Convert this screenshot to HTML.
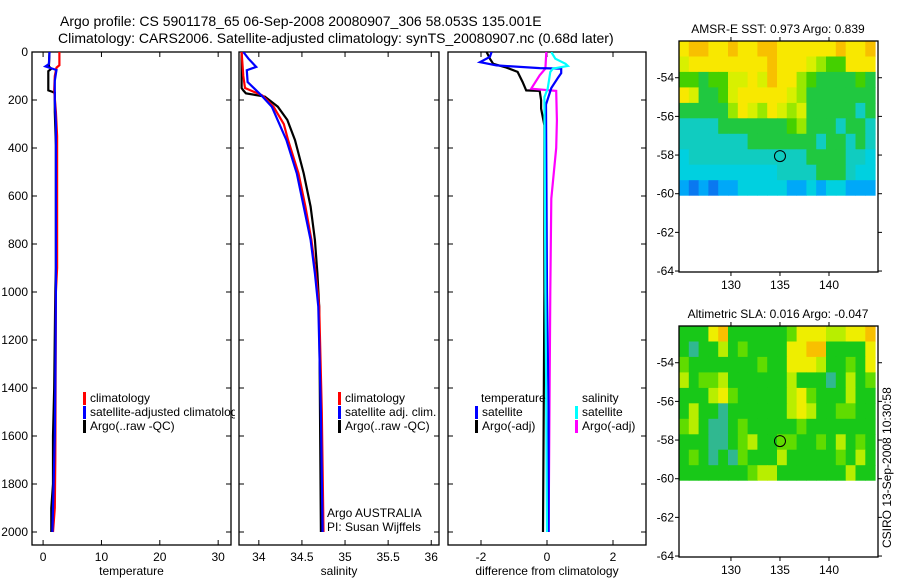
<!DOCTYPE html>
<html><head><meta charset="utf-8"><style>
body{margin:0;background:#fff;}
svg{display:block;font-family:"Liberation Sans",sans-serif;}
text{fill:#000;}
</style></head><body>
<svg id="fig" width="900" height="580" viewBox="0 0 900 580">
<text x="60" y="26" font-size="14">Argo profile: CS 5901178_65 06-Sep-2008 20080907_306 58.053S 135.001E</text>
<text x="58" y="43" font-size="14">Climatology: CARS2006. Satellite-adjusted climatology: synTS_20080907.nc (0.68d later)</text>
<text transform="translate(891,548) rotate(-90)" font-size="12">CSIRO 13-Sep-2008 10:30:58</text>
</svg>
<script>
// ---------- data ----------
const depthTicks=[0,200,400,600,800,1000,1200,1400,1600,1800,2000];
const tempTicks=[0,10,20,30];
const salTicks=[34,34.5,35,35.5,36];
const diffTicks=[-2,0,2];
const tArgoDepth=[0,60,70,80,160,165,170,250,390,900,1000,1400,1600,1800,1900,2000];
const tArgoVal=[1.1,1.0,1.4,0.9,0.9,1.5,2.0,2.0,2.2,2.2,2.1,1.9,1.7,1.7,1.4,1.4];
const tClimDepth=[0,55,65,100,160,250,350,900,1000,1700,1900,2000];
const tClimVal=[2.8,2.8,2.3,2.0,1.9,2.2,2.4,2.4,2.2,2.1,2.0,1.7];
const tSatDepth=[0,50,60,75,90,120,200,300,1000,1400,1600,2000];
const tSatVal=[1.1,1.0,0.4,2.3,2.2,2.0,2.0,2.2,2.2,2.1,2.0,1.6];
const sArgoDepth=[0,150,160,172,186,228,283,367,506,644,783,922,1061,1500,2000];
const sArgoVal=[33.80,33.80,33.82,33.85,34.07,34.22,34.33,34.42,34.52,34.60,34.65,34.68,34.70,34.71,34.72];
const sClimDepth=[0,100,150,181,228,300,367,506,644,783,922,1061,1500,2000];
const sClimVal=[33.80,33.82,33.84,34.04,34.17,34.29,34.34,34.46,34.54,34.61,34.66,34.70,34.73,34.75];
const sSatDepth=[0,28,62,76,125,181,228,367,506,644,783,922,1061,1500,2000];
const sSatVal=[33.82,33.88,33.97,33.86,33.87,34.03,34.15,34.32,34.44,34.52,34.60,34.65,34.69,34.72,34.74];
const dTArgoDepth=[0,28,49,65,83,125,160,162,201,236,306,1000,1500,2000];
const dTArgoVal=[-1.83,-1.73,-1.63,-1.23,-0.89,-0.74,-0.63,-0.22,-0.18,-0.18,-0.08,-0.08,-0.1,-0.12];
const dTSatDepth=[0,20,42,56,67,69,88,108,150,219,1000,1500,2000];
const dTSatVal=[-1.68,-1.73,-2.03,-1.53,-0.22,0.43,0.43,0.33,0.13,-0.03,0.0,0.05,0.05];
const dSArgoDepth=[0,69,97,153,162,285,400,611,1000,2000];
const dSArgoVal=[-0.02,-0.05,-0.22,-0.48,0.28,0.3,0.28,0.13,0.1,0.05];
const dSSatDepth=[0,28,49,58,69,83,153,188,1000,1500,2000];
const dSSatVal=[0.13,0.25,0.56,0.63,0.18,0.1,0.02,-0.08,-0.05,-0.02,0.0];
const mapLonTicks=[130,135,140];
const mapLatTicks=[-54,-56,-58,-60,-62,-64];
const sstGrid=[
"89988988998888889889",
"78888888898887655888",
"55455778798865444454",
"87445788888764444444",
"44444687687674444434",
"33334444444564443443",
"33333334444444344343",
"23333333333334444332",
"22222222223333444322",
"10101122222112122111"];
const slaGrid=[
"44478444444577766778",
"43446454444778844447",
"54444444544777644547",
"64556444444644434645",
"44467544444675444644",
"46443444444676445544",
"56433454444454444444",
"44433456445544546454",
"45434354446444445464",
"44444445664444444644"];
// ---------- helpers ----------
const svg=document.getElementById('fig');
const NS='http://www.w3.org/2000/svg';
function mk(tag,attrs,parent){const e=document.createElementNS(NS,tag);for(const k in attrs)e.setAttribute(k,attrs[k]);(parent||svg).appendChild(e);return e;}
const Y0=52,Y1=545;
const yD=d=>Y0+d*0.24;
function panel(name,x0,x1,vmin,vmax,ticks,label,showY){
  const g=mk('g',{});
  
  
  const xs=v=>x0+(v-vmin)/(vmax-vmin)*(x1-x0);
  const fr=mk('rect',{x:x0,y:Y0,width:x1-x0,height:Y1-Y0,fill:'none',stroke:'#000','stroke-width':1.3},g);
  
  
  ticks.forEach(t=>{const x=xs(t);
    mk('line',{x1:x,x2:x,y1:Y0,y2:Y0+5,stroke:'#000'},g);
    mk('line',{x1:x,x2:x,y1:Y1,y2:Y1-5,stroke:'#000'},g);
    const tl=mk('text',{x:x,y:Y1+16,'font-size':12,'text-anchor':'middle'},g);tl.textContent=t;
    
    });
  depthTicks.forEach(d=>{const y=yD(d);
    mk('line',{x1:x0,x2:x0+5,y1:y,y2:y,stroke:'#000'},g);
    mk('line',{x1:x1,x2:x1-5,y1:y,y2:y,stroke:'#000'},g);
    if(showY){const tl=mk('text',{x:x0-4,y:y+4,'font-size':12,'text-anchor':'end'},g);tl.textContent=d;
      
      }});
  const xl=mk('text',{x:(x0+x1)/2,y:575,'font-size':12,'text-anchor':'middle'},g);xl.textContent=label;
  
  
  const cid='clip'+name;const cp=mk('clipPath',{id:cid},g);mk('rect',{x:x0,y:Y0,width:x1-x0,height:Y1-Y0},cp);
  const inner=mk('g',{'clip-path':'url(#'+cid+')'},g);
  return {xs,inner,g};
}
function line(P,depths,vals,color,name){
  let d='';depths.forEach((dd,i)=>{d+=(i?'L':'M')+P.xs(vals[i]).toFixed(1)+','+yD(dd).toFixed(1);});
  const p=mk('path',{d:d,fill:'none',stroke:color,'stroke-width':2.2},P.inner);
  
  
}
function legend(g,x,y,color,txt){
  if(color){const b=mk('rect',{x:x-7,y:y-10,width:3,height:13,fill:color},g);
    
    }
  const t=mk('text',{x:x,y:y,'font-size':12},g);t.textContent=txt;
  
  
  return t;
}
// panel 1 temperature
const P1=panel('temperature-panel',32,231,-1.9,32.2,tempTicks,'temperature',true);
line(P1,tArgoDepth,tArgoVal,'#000','temp-argo-line');
line(P1,tClimDepth,tClimVal,'#f00','temp-climatology-line');
line(P1,tSatDepth,tSatVal,'#00f','temp-satellite-line');
const lc=mk('clipPath',{id:'lg1'});mk('rect',{x:32,y:380,width:203,height:60},lc);
const lg1=mk('g',{'clip-path':'url(#lg1)'});
legend(lg1,90,402,'#f00','climatology');
legend(lg1,90,416,'#00f','satellite-adjusted climatology');
legend(lg1,90,430,'#000','Argo(..raw -QC)');
// panel 2 salinity
const P2=panel('salinity-panel',239,439,33.77,36.09,salTicks,'salinity',false);
line(P2,sArgoDepth,sArgoVal,'#000','sal-argo-line');
line(P2,sClimDepth,sClimVal,'#f00','sal-climatology-line');
line(P2,sSatDepth,sSatVal,'#00f','sal-satellite-line');
legend(P2.g,345,402,'#f00','climatology');
legend(P2.g,345,416,'#00f','satellite adj. clim.');
legend(P2.g,345,430,'#000','Argo(..raw -QC)');
legend(P2.g,327,517,null,'Argo AUSTRALIA');
legend(P2.g,327,531,null,'PI: Susan Wijffels');
// panel 3 differences
const P3=panel('difference-panel',448,646,-3,3,diffTicks,'difference from climatology',false);
line(P3,dTArgoDepth,dTArgoVal,'#000','diff-temp-argo-line');
line(P3,dSArgoDepth,dSArgoVal,'#f0f','diff-sal-argo-line');
line(P3,dTSatDepth,dTSatVal,'#00f','diff-temp-satellite-line');
line(P3,dSSatDepth,dSSatVal,'#0ff','diff-sal-satellite-line');
legend(P3.g,481,402,null,'temperature');
legend(P3.g,482,416,'#00f','satellite');
legend(P3.g,482,430,'#000','Argo(-adj)');
legend(P3.g,582,402,null,'salinity');
legend(P3.g,582,416,'#0ff','satellite');
legend(P3.g,582,430,'#f0f','Argo(-adj)');
// maps
const sstColors=['#0a78f0','#00a8f8','#00d0e0','#10ccc0','#20c840','#44d000','#99e800','#d8f000','#f8e800','#f8c000'];
const slaColors=['#0080c0','#10a0a0','#20a880','#30b890','#18c818','#60dc00','#b8ee00','#eeee00','#f8c000','#f0a000'];
function map(name,top,title,grid,colors){
  const x0=679,x1=878,bottom=top+231;
  const lonMin=124.7,lonMax=145.0,latTop=-52.1,latBot=-64.05,dataBot=-60.1;
  const cellLat=(latTop-dataBot)/grid.length;
  const xs=lo=>x0+(lo-lonMin)/(lonMax-lonMin)*(x1-x0);
  const ys=la=>top+(latTop-la)/(latTop-latBot)*(bottom-top);
  const g=mk('g',{});
  
  
  grid.forEach((row,r)=>{for(let c=0;c<row.length;c++){
    const v=+row[c];
    const xa=xs(lonMin+c),xb=xs(Math.min(lonMin+c+1,lonMax));
    const ya=ys(latTop-r*cellLat),yb=ys(latTop-(r+1)*cellLat);
    const cell=mk('rect',{x:xa.toFixed(1),y:ya.toFixed(1),width:(xb-xa+0.5).toFixed(1),height:(yb-ya+(r<grid.length-1?0.5:0)).toFixed(1),fill:colors[v]},g);
    
    }});
  const fr=mk('rect',{x:x0,y:top,width:x1-x0,height:bottom-top,fill:'none',stroke:'#000','stroke-width':1.3},g);
  
  
  mapLonTicks.forEach(lo=>{const x=xs(lo);
    mk('line',{x1:x,x2:x,y1:top,y2:top-4,stroke:'#000'},g);
    mk('line',{x1:x,x2:x,y1:bottom,y2:bottom+4,stroke:'#000'},g);
    const t=mk('text',{x:x,y:bottom+17,'font-size':12,'text-anchor':'middle'},g);t.textContent=lo;
    
    });
  mapLatTicks.forEach(la=>{const y=ys(la);
    mk('line',{x1:x0,x2:x0-4,y1:y,y2:y,stroke:'#000'},g);
    mk('line',{x1:x1,x2:x1+4,y1:y,y2:y,stroke:'#000'},g);
    const t=mk('text',{x:x0-5,y:y+4,'font-size':12,'text-anchor':'end'},g);t.textContent=la;
    
    });
  const c=mk('circle',{cx:xs(135.001),cy:ys(-58.053),r:5.5,fill:'none',stroke:'#000','stroke-width':1},g);
  
  
  const t=mk('text',{x:778,y:top-8,'font-size':12,'text-anchor':'middle'},g);t.textContent=title;
  
  
}
map('sst-map',41,'AMSR-E SST: 0.973 Argo: 0.839',sstGrid,sstColors);
map('sla-map',326,'Altimetric SLA: 0.016 Argo: -0.047',slaGrid,slaColors);
</script>
</body></html>
